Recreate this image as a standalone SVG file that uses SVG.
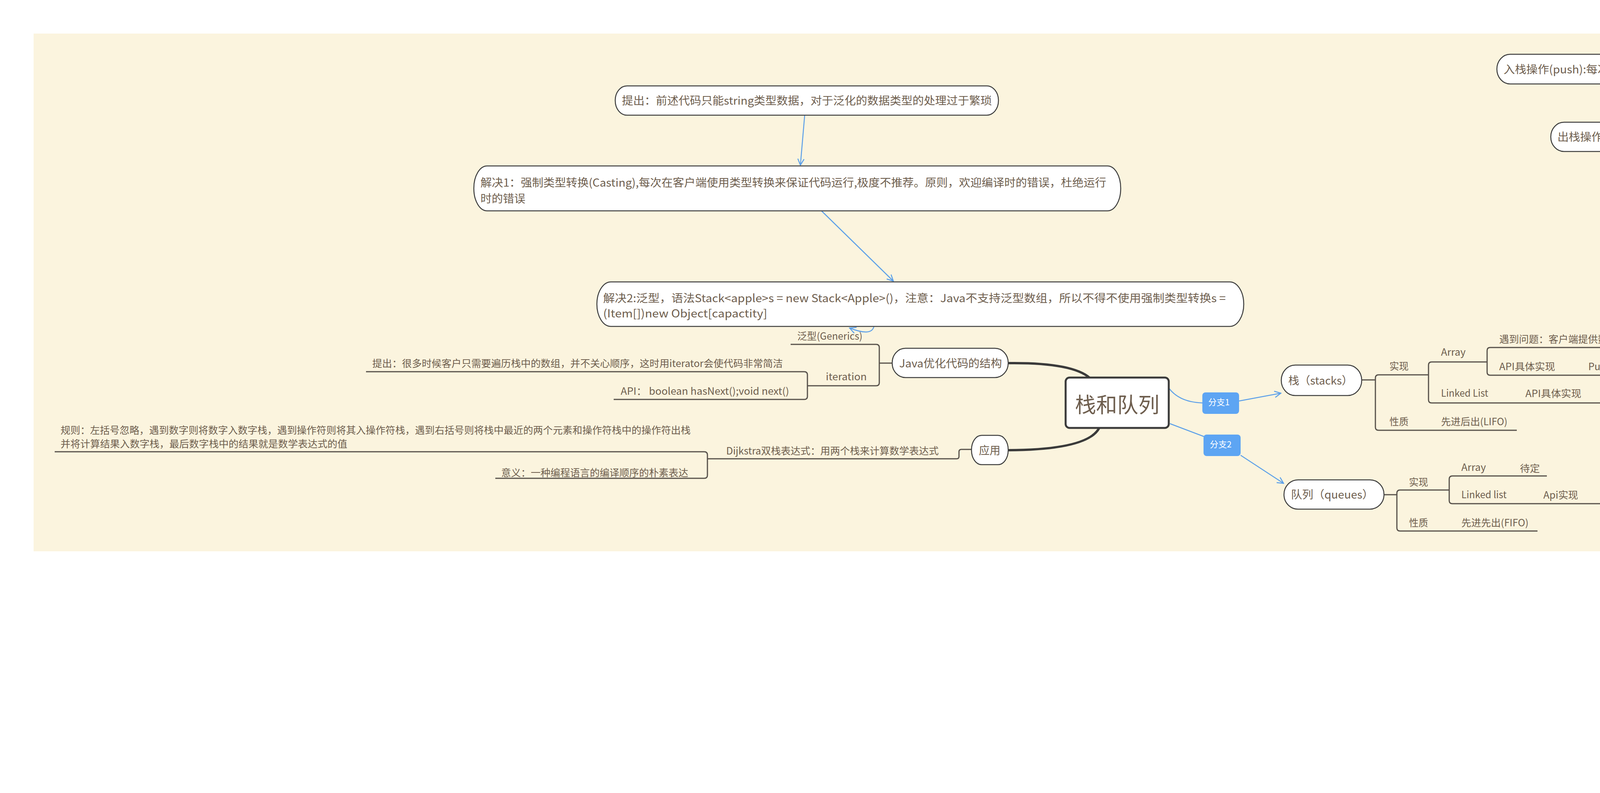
<svg xmlns="http://www.w3.org/2000/svg" width="6165" height="2031" viewBox="0 0 6165 2031">
<defs>
<style>
.t{font-family:"Noto Sans CJK SC","Noto Sans",sans-serif;fill:#6E5E4E}
.s{font-size:25px}
.n{font-size:28px}
.lb{font-family:"Noto Sans CJK SC","Noto Sans",sans-serif;font-size:22px;fill:#FFFFFF}
.pill{fill:#FFFFFF;stroke:#3D3D3D;stroke-width:2.5}
.tree{fill:none;stroke:#57514A;stroke-width:3}
.thick{fill:none;stroke:#3A3A3A;stroke-width:6}
.blue{fill:none;stroke:#5B9FE9;stroke-width:2.5}
.tag{fill:#5DA5F3}
</style>
<marker id="arr" markerUnits="userSpaceOnUse" markerWidth="20" markerHeight="20" viewBox="0 0 20 20" refX="18" refY="10" orient="auto">
<path d="M2,2 L18,10 L2,18" fill="none" stroke="#5B9FE9" stroke-width="2.5"/>
</marker>
</defs>
<rect x="0" y="0" width="6165" height="2031" fill="#FFFFFF"/>
<rect x="86" y="86" width="5993" height="1326" fill="#FBF4DE"/>

<g id="connectors">
<path class="thick" d="M2581,930 Q2745,928 2790,968"/>
<path class="thick" d="M2581,1153 Q2785,1152 2814,1096"/>
<path class="tree" d="M2283,930 H2251"/>
<path class="tree" d="M2024,882 H2243 Q2251,882 2251,890 V980 Q2251,988 2243,988 H2067"/>
<path class="tree" d="M937,952 H2059 Q2067,952 2067,960 V1015 Q2067,1023 2059,1023 H1571"/>
<path class="tree" d="M2487,1151 H2461 Q2455,1151 2455,1157 V1169 Q2455,1175 2449,1175 H1843"/>
<path class="tree" d="M1843,1175 H1811"/>
<path class="tree" d="M140,1157 H1803 Q1811,1157 1811,1165 V1217 Q1811,1225 1803,1225 H1268"/>
<path class="tree" d="M3486,973 H3521"/>
<path class="tree" d="M3657,960 H3529 Q3521,960 3521,968 V1094 Q3521,1102 3529,1102 H3883"/>
<path class="tree" d="M3807,927 H3665 Q3657,927 3657,935 V1024 Q3657,1032 3665,1032 H5345"/>
<path class="tree" d="M5032,890 H3815 Q3807,890 3807,898 V953 Q3807,961 3815,961 H5291"/>
<path class="tree" d="M3543,1267 H3576"/>
<path class="tree" d="M3710,1255 H3584 Q3576,1255 3576,1263 V1352 Q3576,1360 3584,1360 H3936"/>
<path class="tree" d="M3960,1219 H3718 Q3710,1219 3710,1227 V1282 Q3710,1290 3718,1290 H5394"/>
<path class="blue" d="M2993,995 Q3020,1030 3078,1032"/>
<path class="blue" d="M3172,1027 L3279,1007" marker-end="url(#arr)"/>
<path class="blue" d="M2995,1085 L3082,1118"/>
<path class="blue" d="M3176,1166 L3286,1238" marker-end="url(#arr)"/>
<path class="blue" d="M2060,295 L2049,423" marker-end="url(#arr)"/>
<path class="blue" d="M2103,540 L2287,720" marker-end="url(#arr)"/>
<path class="blue" d="M2237,837 Q2230,862 2175,840" marker-end="url(#arr)"/>
<path class="blue" d="M4655,215 V311" marker-end="url(#arr)"/>
<path class="blue" d="M4655,388 V480" marker-end="url(#arr)"/>
<path class="blue" d="M4616,558 L4549,641"/>
<path class="blue" d="M4507,697 L4435,846" marker-end="url(#arr)"/>
</g>

<g id="root">
<rect x="2728" y="967" width="264" height="129" rx="10" fill="#FFFFFF" stroke="#3A3A3A" stroke-width="5"/>
<text class="t" x="2752" y="1057" font-size="54" textLength="216" lengthAdjust="spacingAndGlyphs">栈和队列</text>
</g>

<g id="tag1"><rect class="tag" x="3078" y="1005" width="94" height="55" rx="8"/><text class="lb" x="3093" y="1038" textLength="55" lengthAdjust="spacingAndGlyphs">分支1</text></g>
<g id="tag2"><rect class="tag" x="3081" y="1113" width="95" height="55" rx="8"/><text class="lb" x="3097" y="1146" textLength="56" lengthAdjust="spacingAndGlyphs">分支2</text></g>
<g id="tag3"><rect class="tag" x="4462" y="641" width="127" height="56" rx="8"/><text class="lb" x="4474" y="677" textLength="91" lengthAdjust="spacingAndGlyphs">解决办法</text></g>

<g id="java">
<rect class="pill" x="2284" y="892" width="297" height="75" rx="34" ry="37"/>
<text class="t n" x="2302" y="941" textLength="263" lengthAdjust="spacingAndGlyphs">Java优化代码的结构</text>
</g>
<g id="yingyong">
<rect class="pill" x="2487" y="1115" width="94" height="75" rx="26" ry="37"/>
<text class="t n" x="2506" y="1164" textLength="55" lengthAdjust="spacingAndGlyphs">应用</text>
</g>
<g id="tichu">
<rect class="pill" x="1575" y="220" width="981" height="75" rx="30" ry="37"/>
<text class="t n" x="1592" y="268" textLength="947" lengthAdjust="spacingAndGlyphs">提出：前述代码只能string类型数据，对于泛化的数据类型的处理过于繁琐</text>
</g>
<g id="jiejue1">
<rect class="pill" x="1213" y="425" width="1656" height="115" rx="34" ry="57"/>
<text class="t n" x="1230" y="478" textLength="1602" lengthAdjust="spacingAndGlyphs">解决1：强制类型转换(Casting),每次在客户端使用类型转换来保证代码运行,极度不推荐。原则，欢迎编译时的错误，杜绝运行</text>
<text class="t n" x="1230" y="519" textLength="115" lengthAdjust="spacingAndGlyphs">时的错误</text>
</g>
<g id="jiejue2">
<rect class="pill" x="1528" y="722" width="1656" height="114" rx="36" ry="57"/>
<text class="t n" x="1544" y="774" textLength="1594" lengthAdjust="spacingAndGlyphs">解决2:泛型，语法Stack&lt;apple&gt;s = new Stack&lt;Apple&gt;()，注意：Java不支持泛型数组，所以不得不使用强制类型转换s =</text>
<text class="t n" x="1544" y="813" textLength="420" lengthAdjust="spacingAndGlyphs">(Item[])new Object[capactity]</text>
</g>
<g id="generics"><text class="t s" x="2041" y="870" textLength="167" lengthAdjust="spacingAndGlyphs">泛型(Generics)</text></g>
<g id="iteration"><text class="t s" x="2114" y="974" textLength="105" lengthAdjust="spacingAndGlyphs">iteration</text></g>
<g id="iter-tichu"><text class="t s" x="953" y="940" textLength="1051" lengthAdjust="spacingAndGlyphs">提出：很多时候客户只需要遍历栈中的数组，并不关心顺序，这时用iterator会使代码非常简洁</text></g>
<g id="iter-api"><text class="t s" x="1589" y="1011" textLength="431" lengthAdjust="spacingAndGlyphs">API： boolean hasNext();void next()</text></g>
<g id="dijkstra"><text class="t s" x="1859" y="1164" textLength="544" lengthAdjust="spacingAndGlyphs">Dijkstra双栈表达式：用两个栈来计算数学表达式</text></g>
<g id="guize">
<text class="t s" x="155" y="1111" textLength="1613" lengthAdjust="spacingAndGlyphs">规则：左括号忽略，遇到数字则将数字入数字栈，遇到操作符则将其入操作符栈，遇到右括号则将栈中最近的两个元素和操作符栈中的操作符出栈</text>
<text class="t s" x="155" y="1146" textLength="734" lengthAdjust="spacingAndGlyphs">并将计算结果入数字栈，最后数字栈中的结果就是数学表达式的值</text>
</g>
<g id="yiyi"><text class="t s" x="1283" y="1220" textLength="479" lengthAdjust="spacingAndGlyphs">意义：一种编程语言的编译顺序的朴素表达</text></g>

<g id="stack">
<rect class="pill" x="3280" y="935" width="206" height="78" rx="36" ry="39"/>
<text class="t n" x="3298" y="985" textLength="165" lengthAdjust="spacingAndGlyphs">栈（stacks）</text>
</g>
<g id="s-impl"><text class="t s" x="3557" y="947" textLength="49" lengthAdjust="spacingAndGlyphs">实现</text></g>
<g id="s-array"><text class="t s" x="3689" y="911" textLength="63" lengthAdjust="spacingAndGlyphs">Array</text></g>
<g id="s-problem"><text class="t s" x="3838" y="878" textLength="1140" lengthAdjust="spacingAndGlyphs">遇到问题：客户端提供数组大小不现实，而每入栈一次就创建一个加一容量的数组也是O(n^2)的复杂度</text></g>
<g id="s-array-api"><text class="t s" x="3838" y="948" textLength="143" lengthAdjust="spacingAndGlyphs">API具体实现</text></g>
<g id="s-array-push"><text class="t s" x="4066" y="948" textLength="1166" lengthAdjust="spacingAndGlyphs">Push():直接将item插入数组尾端；Pop():返回数组的最后一项，并将其置为null，防止对象游离(loitering)</text></g>
<g id="s-ll"><text class="t s" x="3689" y="1016" textLength="121" lengthAdjust="spacingAndGlyphs">Linked List</text></g>
<g id="s-ll-api"><text class="t s" x="3905" y="1017" textLength="143" lengthAdjust="spacingAndGlyphs">API具体实现</text></g>
<g id="s-ll-push"><text class="t s" x="4133" y="1017" textLength="1153" lengthAdjust="spacingAndGlyphs">Push():将一个节点(Node)指向首节点；Pop():将首节点的值返回，并将首节点置为他的下一个节点(next)</text></g>
<g id="s-prop"><text class="t s" x="3557" y="1089" textLength="49" lengthAdjust="spacingAndGlyphs">性质</text></g>
<g id="s-lifo"><text class="t s" x="3689" y="1089" textLength="170" lengthAdjust="spacingAndGlyphs">先进后出(LIFO)</text></g>

<g id="queue">
<rect class="pill" x="3287" y="1229" width="256" height="75" rx="36" ry="37"/>
<text class="t n" x="3305" y="1277" textLength="211" lengthAdjust="spacingAndGlyphs">队列（queues）</text>
</g>
<g id="q-impl"><text class="t s" x="3607" y="1244" textLength="49" lengthAdjust="spacingAndGlyphs">实现</text></g>
<g id="q-array"><text class="t s" x="3741" y="1206" textLength="63" lengthAdjust="spacingAndGlyphs">Array</text></g>
<g id="q-tbd"><text class="t s" x="3891" y="1209" textLength="51" lengthAdjust="spacingAndGlyphs">待定</text></g>
<g id="q-ll"><text class="t s" x="3741" y="1276" textLength="116" lengthAdjust="spacingAndGlyphs">Linked list</text></g>
<g id="q-api"><text class="t s" x="3951" y="1277" textLength="89" lengthAdjust="spacingAndGlyphs">Api实现</text></g>
<g id="q-enq"><text class="t s" x="4128" y="1277" textLength="1214" lengthAdjust="spacingAndGlyphs">Enqueue():在链表末端插入，Last节点指向新加入的节点；Dequeue()删除节点与栈相同，First节点指向Next</text></g>
<g id="q-prop"><text class="t s" x="3607" y="1348" textLength="49" lengthAdjust="spacingAndGlyphs">性质</text></g>
<g id="q-fifo"><text class="t s" x="3741" y="1348" textLength="172" lengthAdjust="spacingAndGlyphs">先进先出(FIFO)</text></g>

<g id="push">
<rect class="pill" x="3832" y="139" width="1638" height="76" rx="34" ry="38"/>
<text class="t n" x="3849" y="188" textLength="1589" lengthAdjust="spacingAndGlyphs">入栈操作(push):每次栈满时，创建两倍长度的数组(repeated doubling)这样可以将创建数组的时间复杂度摊派到每个操作中</text>
</g>
<g id="pop">
<rect class="pill" x="3970" y="313" width="1370" height="75" rx="34" ry="37"/>
<text class="t n" x="3987" y="361" textLength="1342" lengthAdjust="spacingAndGlyphs">出栈操作(pop):采用的是当剩余1/4的元素时将数组长度减半，为的是防止客户端进行频繁的入栈出栈操作</text>
</g>
<g id="solution">
<rect class="pill" x="4580" y="481" width="149" height="77" rx="24" ry="38"/>
<text class="t n" x="4598" y="530" textLength="113" lengthAdjust="spacingAndGlyphs">解决办法</text>
</g>
</svg>
